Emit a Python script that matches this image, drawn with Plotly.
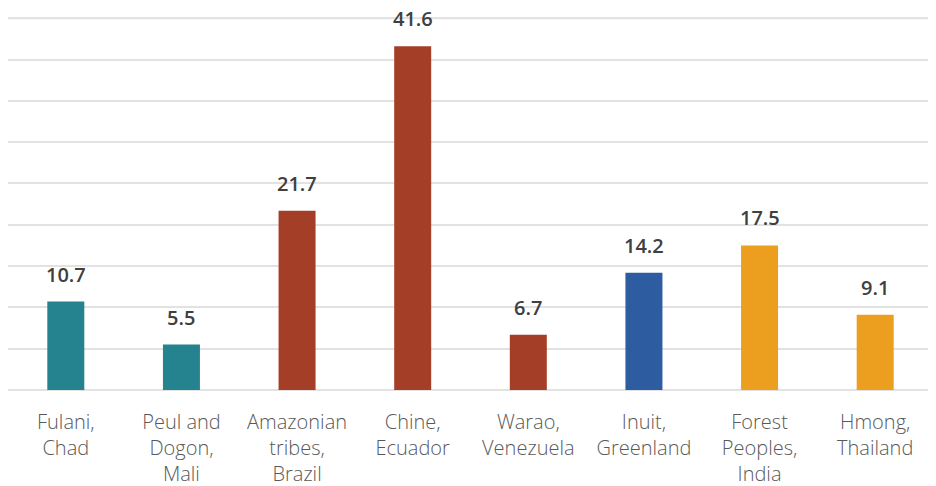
import plotly.graph_objects as go

categories = ["Fulani,<br>Chad", "Peul and<br>Dogon,<br>Mali", "Amazonian<br>tribes,<br>Brazil",
              "Chine,<br>Ecuador", "Warao,<br>Venezuela", "Inuit,<br>Greenland",
              "Forest<br>Peoples,<br>India", "Hmong,<br>Thailand"]
values = [10.7, 5.5, 21.7, 41.6, 6.7, 14.2, 17.5, 9.1]
colors = ["#24838F", "#24838F", "#A53E27", "#A53E27", "#A53E27", "#2D5CA0", "#EC9E1F", "#EC9E1F"]
grid_values = [0, 5, 10, 15, 20, 25, 30, 35, 40, 45]

fig = go.Figure()
fig.add_trace(go.Bar(x=categories, y=values, marker_color=colors, width=0.32,
                     marker_line_width=0, hoverinfo="skip"))

for c, v in zip(categories, values):
    fig.add_annotation(x=c, y=v, text=f"{v:.1f}", showarrow=False, yanchor="bottom",
                       yshift=12, font=dict(family="Open Sans", size=20, color="#404040", weight=600))

# top gridline drawn explicitly so it is not dropped at the plot edge
fig.add_hline(y=grid_values[-1], line_color="#E2E2E2", line_width=2, layer="below")

fig.update_layout(
    width=936, height=486,
    margin=dict(l=0, r=11, t=2, b=104),
    paper_bgcolor="white", plot_bgcolor="white",
    showlegend=False,
    font=dict(family="Open Sans", size=20, color="#595959"),
)
fig.update_yaxes(range=[0, 46], tickmode="array", tickvals=grid_values, showticklabels=False,
                 gridcolor="#E2E2E2", gridwidth=2, zeroline=True, zerolinecolor="#E2E2E2",
                 zerolinewidth=2, showline=False, automargin=False)
fig.update_xaxes(showgrid=False, showline=False, ticks="", ticklabelstandoff=18, automargin=False,
                 tickfont=dict(family="Open Sans", size=20, color="#595959", weight=300))

fig.write_html("out.html", config={"displayModeBar": False})
